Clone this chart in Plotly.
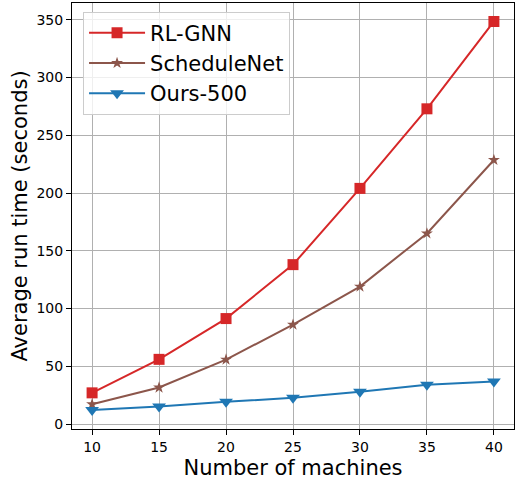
import plotly.graph_objects as go

machines = [10, 15, 20, 25, 30, 35, 40]
rl_gnn = [27, 56, 91.3, 138, 204, 272.9, 348.5]
schedulenet = [17.1, 31.6, 55.8, 86, 119, 165, 228.6]
ours_500 = [12.2, 15.1, 19.2, 22.7, 27.9, 34, 36.9]

series = [
    ("RL-GNN", rl_gnn, "#d62728", "square", 11),
    ("ScheduleNet", schedulenet, "#8c564b", "star", 9),
    ("Ours-500", ours_500, "#1f77b4", "triangle-down", 12),
]

fig = go.Figure()
for name, vals, color, sym, sz in series:
    fig.add_trace(go.Scatter(
        x=machines, y=vals, name=name, mode="lines+markers",
        line=dict(color=color, width=2),
        marker=dict(symbol=sym, size=sz, color=color, line=dict(width=0)),
    ))

font = "DejaVu Sans"
fig.update_layout(
    width=515, height=485,
    margin=dict(l=72, r=1, t=3, b=56),
    plot_bgcolor="white", paper_bgcolor="white",
    font=dict(family=font, color="black"),
    showlegend=True,
    legend=dict(
        x=0.025, y=0.98, xanchor="left", yanchor="top",
        bgcolor="rgba(255,255,255,0.8)", bordercolor="#cccccc", borderwidth=1,
        font=dict(size=21, family=font),
        tracegroupgap=0, itemwidth=56,
    ),
    xaxis=dict(
        range=[8.5, 41.5], tickvals=machines, ticktext=[str(m) for m in machines],
        showgrid=True, gridcolor="#b0b0b0", gridwidth=1,
        showline=True, linecolor="black", linewidth=1, mirror=True,
        ticks="outside", ticklen=5, tickcolor="black",
        tickfont=dict(size=14), zeroline=False,
        title=dict(text="Number of machines", font=dict(size=21), standoff=6),
    ),
    yaxis=dict(
        range=[-4.3, 364.5], tickvals=[0, 50, 100, 150, 200, 250, 300, 350],
        showgrid=True, gridcolor="#b0b0b0", gridwidth=1,
        showline=True, linecolor="black", linewidth=1, mirror=True,
        ticks="outside", ticklen=5, tickcolor="black",
        tickfont=dict(size=14), zeroline=False,
        title=dict(text="Average run time (seconds)", font=dict(size=21), standoff=3),
    ),
)

fig.write_html("out.html")
